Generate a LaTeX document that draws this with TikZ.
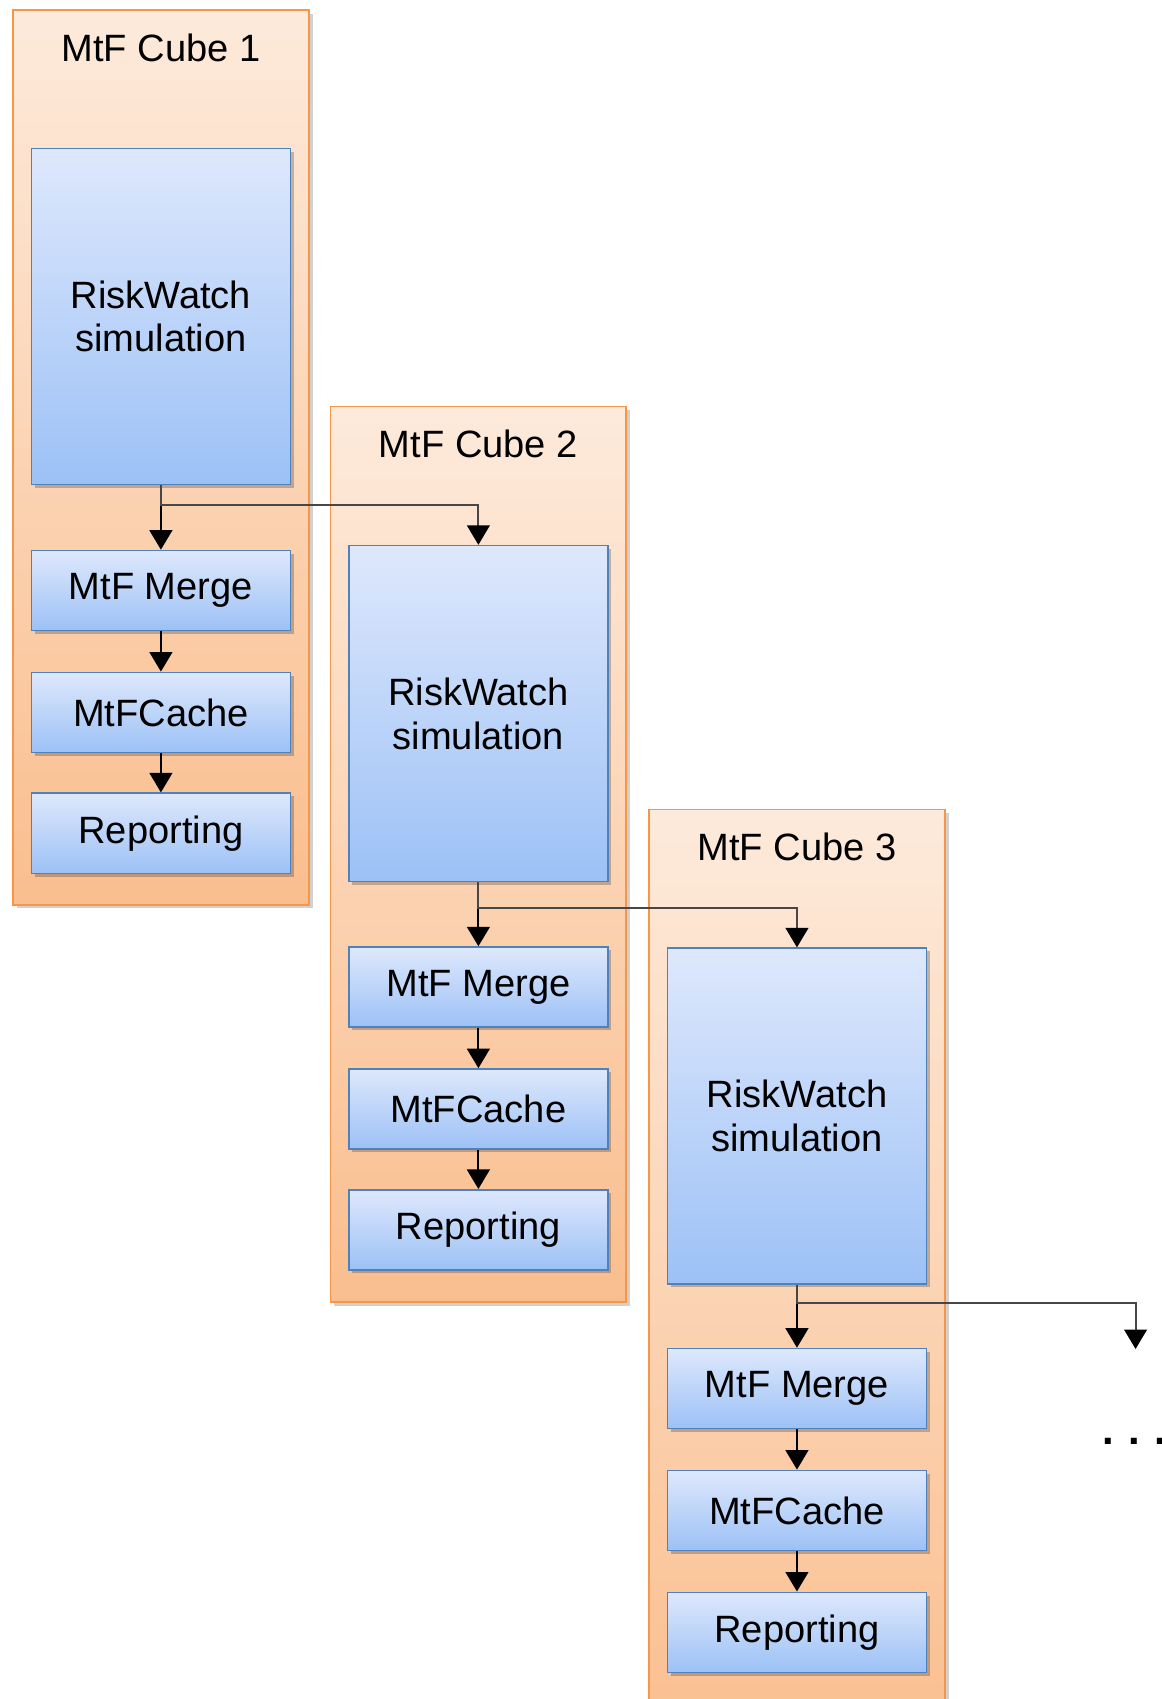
\documentclass[tikz,border=0pt]{standalone}
\usepackage{fontspec}
\setmainfont{Liberation Sans}
\usetikzlibrary{arrows.meta,shadows}

\definecolor{cubetop}{RGB}{253,234,219}
\definecolor{cubebottom}{RGB}{250,190,142}
\definecolor{cubeedge}{RGB}{247,150,70}
\definecolor{boxtop}{RGB}{222,232,252}
\definecolor{boxbottom}{RGB}{156,193,246}
\definecolor{boxedge}{RGB}{79,129,189}

\tikzset{
  cube/.style={draw=cubeedge, line width=0.9pt, top color=cubetop, bottom color=cubebottom,
    minimum width=5.46cm, inner sep=0pt,
    drop shadow={shadow xshift=0.07cm, shadow yshift=-0.07cm, fill=black, opacity=0.18}},
  cubetitle/.style={font=\fontsize{20}{23}\selectfont},
  simbox/.style={draw=boxedge, line width=0.8pt, top color=boxtop, bottom color=boxbottom,
    minimum width=4.78cm, minimum height=6.2cm, align=center, inner sep=0pt,
    font=\fontsize{20}{23}\selectfont,
    drop shadow={shadow xshift=0.06cm, shadow yshift=-0.06cm, fill=black, opacity=0.22}},
  stepbox/.style={simbox, minimum height=1.48cm},
  flow/.style={line width=1.1pt, -{Triangle[width=0.42cm,length=0.36cm,color=black,fill=black]}},
  branch/.style={flow, draw=black!72, line width=1pt}
}

\begin{document}
\begin{tikzpicture}[x=0.02cm, y=-0.02cm]
    \useasboundingbox (0,0) rectangle (1072,1568);
    \clip (0,0) rectangle (1072,1568);

    % CUBE 1
    \node[cube, minimum height=16.52cm] (C1) at (148.5,422) {};
    \node[cubetitle] (T1) at (148.5,44) {MtF Cube 1};
    \node[simbox] (A1) at (148.5,292) {RiskWatch\\simulation};
    \node[stepbox] (B1) at (148.5,545) {MtF Merge};
    \node[stepbox] (D1) at (148.5,657.5) {MtFCache};
    \node[stepbox] (E1) at (148.5,769) {Reporting};
    \draw[flow] (A1) -- (B1);
    \draw[flow] (B1) -- (D1);
    \draw[flow] (D1) -- (E1);

    % CUBE 2
    \node[cube, minimum height=16.54cm] (C2) at (441.5,788.5) {};
    \node[cubetitle] (T2) at (441.5,410) {MtF Cube 2};
    \node[simbox] (A2) at (441.5,658.5) {RiskWatch\\simulation};
    \node[stepbox] (B2) at (441.5,911) {MtF Merge};
    \node[stepbox] (D2) at (441.5,1023.5) {MtFCache};
    \node[stepbox] (E2) at (441.5,1135) {Reporting};
    \draw[flow] (A2) -- (B2);
    \draw[flow] (B2) -- (D2);
    \draw[flow] (D2) -- (E2);
    \draw[branch] (A1.south) -- ++(0,18) -| (A2.north);

    % CUBE 3
    \node[cube, minimum height=17.6cm] (C3) at (735.5,1187) {};
    \node[cubetitle] (T3) at (735.5,782) {MtF Cube 3};
    \node[simbox] (A3) at (735.5,1030) {RiskWatch\\simulation};
    \node[stepbox] (B3) at (735.5,1281.5) {MtF Merge};
    \node[stepbox] (D3) at (735.5,1394) {MtFCache};
    \node[stepbox] (E3) at (735.5,1506.5) {Reporting};
    \draw[flow] (A3) -- (B3);
    \draw[flow] (B3) -- (D3);
    \draw[flow] (D3) -- (E3);
    \draw[branch] (A2.south) -- ++(0,24) -| (A3.north);

    % NEXT CUBE
    \coordinate (N4) at (1048,1245);
    \draw[branch] (A3.south) -- ++(0,17) -| (N4);
    \node[anchor=base west, inner sep=0pt, font=\fontsize{22}{24}\selectfont\bfseries] (dots) at (1017,1333) {.\hspace{7.5pt}.\hspace{7.5pt}.};
\end{tikzpicture}
\end{document}
